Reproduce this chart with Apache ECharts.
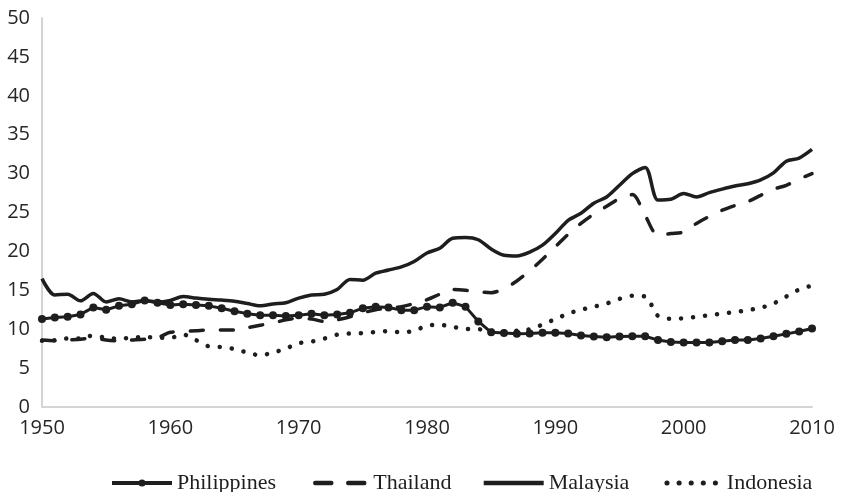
<!DOCTYPE html>
<html>
<head>
<meta charset="utf-8">
<script src="https://cdn.jsdelivr.net/npm/echarts@6/dist/echarts.min.js"></script>
<style>
  html, body { margin: 0; padding: 0; background: #fff; }
  #chart { width: 844px; height: 492px; }
</style>
</head>
<body>
<div id="chart"></div>
<script>
// years on the x axis
const years = [
  1950, 1951, 1952, 1953, 1954, 1955, 1956, 1957, 1958, 1959,
  1960, 1961, 1962, 1963, 1964, 1965, 1966, 1967, 1968, 1969,
  1970, 1971, 1972, 1973, 1974, 1975, 1976, 1977, 1978, 1979,
  1980, 1981, 1982, 1983, 1984, 1985, 1986, 1987, 1988, 1989,
  1990, 1991, 1992, 1993, 1994, 1995, 1996, 1997, 1998, 1999,
  2000, 2001, 2002, 2003, 2004, 2005, 2006, 2007, 2008, 2009,
  2010
]

const philippines = [
  11.3, 11.5, 11.6, 11.9, 12.8, 12.5, 13.0, 13.2, 13.7, 13.4,
  13.1, 13.2, 13.1, 13.0, 12.7, 12.3, 12.0, 11.8, 11.8, 11.7,
  11.8, 12.0, 11.8, 11.9, 12.1, 12.7, 12.9, 12.8, 12.45, 12.45,
  12.9, 12.8, 13.4, 12.9, 11.0, 9.6, 9.5, 9.4, 9.45, 9.55,
  9.55, 9.45, 9.2, 9.05, 8.95, 9.05, 9.1, 9.1, 8.6, 8.35,
  8.3, 8.3, 8.3, 8.45, 8.6, 8.6, 8.8, 9.1, 9.4, 9.7,
  10.1
]

const thailand = [
  8.6, 8.5, 8.6, 8.7, 8.9, 8.6, 8.5, 8.6, 8.7, 8.9,
  9.6, 9.7, 9.8, 9.9, 9.9, 9.9, 10.2, 10.5, 10.8, 11.2,
  11.4, 11.3, 11.0, 11.2, 11.6, 12.1, 12.5, 12.7, 12.9, 13.3,
  13.8, 14.5, 15.1, 15.0, 14.8, 14.7, 15.2, 16.2, 17.5, 19.0,
  20.6, 22.2, 23.6, 24.8, 25.8, 26.8, 27.3, 24.6, 22.1, 22.3,
  22.5, 23.6, 24.5, 25.3, 25.9, 26.4, 27.2, 28.0, 28.5, 29.3,
  30.0
]

const malaysia = [
  16.5, 14.4, 14.5, 13.65, 14.6, 13.5, 13.9, 13.5, 13.7, 13.5,
  13.7, 14.2, 14.0, 13.85, 13.75, 13.6, 13.3, 13.0, 13.25, 13.4,
  14.0, 14.4, 14.5, 15.1, 16.4, 16.3, 17.2, 17.6, 18.0, 18.7,
  19.8, 20.4, 21.7, 21.8, 21.5, 20.3, 19.5, 19.4, 19.9, 20.8,
  22.3, 24.0, 24.9, 26.2, 27.0, 28.5, 30.0, 30.8, 26.6, 26.7,
  27.45, 27.0, 27.55, 28.0, 28.4, 28.7, 29.2, 30.1, 31.6, 32.0,
  33.1
]

const indonesia = [
  8.5, 8.6, 8.8, 8.8, 9.2, 8.9, 8.8, 8.9, 9.0, 8.9,
  8.9, 9.3, 8.6, 7.8, 7.7, 7.45, 7.0, 6.65, 7.0, 7.5,
  8.2, 8.4, 8.8, 9.3, 9.45, 9.5, 9.65, 9.75, 9.6, 9.8,
  10.45, 10.55, 10.3, 10.05, 10.0, 9.8, 9.7, 9.8, 10.0, 10.6,
  11.3, 12.0, 12.5, 12.9, 13.3, 13.9, 14.3, 14.2, 11.7, 11.35,
  11.4, 11.6, 11.8, 12.0, 12.2, 12.45, 12.75, 13.3, 14.2, 15.1,
  15.6
]

const yTicks = { min: 0, max: 50, step: 5 }

const ink = '#1e1e1e'
const axisFont = 'Open Sans'
const legendFont = 'Liberation Serif'

// legend entries: only Philippines shows a marker
const noMarker = { opacity: 0 }
const legendItems = [
  { name: 'Philippines', lineStyle: { width: 4 } },
  { name: 'Thailand', itemStyle: noMarker, lineStyle: { width: 4.5, type: [16, 17], dashOffset: 26, cap: 'round' } },
  { name: 'Malaysia', itemStyle: noMarker, lineStyle: { width: 4.5 } },
  { name: 'Indonesia', itemStyle: noMarker, lineStyle: { width: 5, type: [0.1, 12], dashOffset: 7, cap: 'round' } }
]

const chart = echarts.init(document.getElementById('chart'))

chart.setOption({
  animation: false,
  backgroundColor: '#fff',
  grid: { left: 42, right: 32, top: 18, bottom: 85 },
  legend: {
    left: 105,
    top: 467,
    itemWidth: 60,
    itemHeight: 9,
    itemGap: 30,
    textStyle: { fontFamily: legendFont, fontSize: 22, color: ink },
    data: legendItems
  },
  xAxis: {
    type: 'category',
    data: years,
    boundaryGap: false,
    axisLine: { show: true, lineStyle: { color: '#d4d4d4', width: 2 } },
    axisTick: { show: false },
    axisLabel: {
      interval: 9,
      margin: 11,
      fontFamily: axisFont,
      fontSize: 20,
      color: '#262626'
    },
    splitLine: { show: false }
  },
  yAxis: {
    type: 'value',
    min: yTicks.min,
    max: yTicks.max,
    interval: yTicks.step,
    axisLine: { show: true, lineStyle: { color: '#d4d4d4', width: 2 } },
    axisTick: { show: false },
    axisLabel: {
      margin: 12,
      fontFamily: axisFont,
      fontSize: 20,
      color: '#262626'
    },
    splitLine: { show: false }
  },
  series: [
    {
      name: 'Philippines',
      type: 'line',
      data: philippines,
      symbol: 'circle',
      symbolSize: 8,
      showAllSymbol: true,
      itemStyle: { color: ink },
      lineStyle: { color: ink, width: 3 },
      z: 4
    },
    {
      name: 'Thailand',
      type: 'line',
      data: thailand,
      smooth: 0.3,
      symbol: 'none',
      itemStyle: { color: ink },
      lineStyle: { color: ink, width: 3.5, type: [13, 17], cap: 'round' },
      z: 3
    },
    {
      name: 'Malaysia',
      type: 'line',
      data: malaysia,
      smooth: 0.3,
      symbol: 'none',
      itemStyle: { color: ink },
      lineStyle: { color: ink, width: 3.5 },
      z: 2
    },
    {
      name: 'Indonesia',
      type: 'line',
      data: indonesia,
      smooth: 0.3,
      symbol: 'none',
      itemStyle: { color: ink },
      lineStyle: { color: ink, width: 4.5, type: [0.1, 12], cap: 'round' },
      z: 1
    }
  ]
})

window.addEventListener('resize', () => chart.resize())
</script>
</body>
</html>
